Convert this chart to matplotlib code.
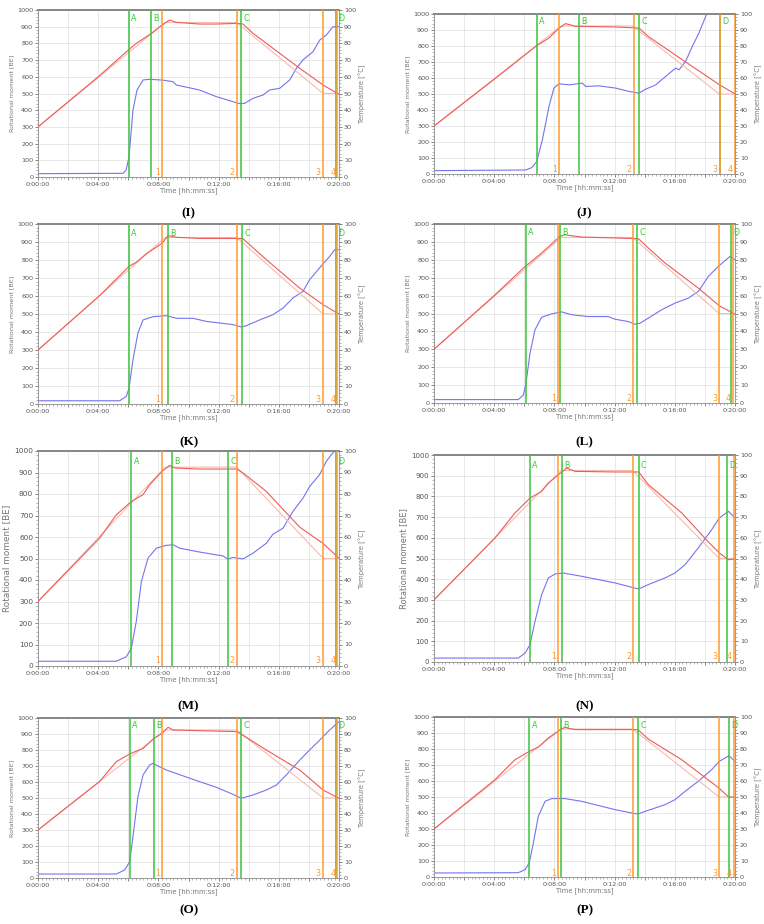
import matplotlib.pyplot as plt
import numpy as np
from matplotlib.ticker import MultipleLocator, FuncFormatter

# set-point temperature profile (same for every run), minutes / degC
set_time = [0, 8.45, 13.2, 18.95, 20]
set_temp = [30, 92.5, 92.5, 50, 50]

# (I)
t_I = [0, 5.65, 5.85, 6.05, 6.31, 6.58, 6.98, 7.42, 8.3, 8.97, 9.19, 10.74, 11.85, 12.96, 13.3, 13.73,
       14.29, 14.95, 15.39, 16.06, 16.72, 17.17, 17.6, 18.27, 18.72, 19.16, 19.6, 20]
torque_I = [20, 22, 40, 122, 401, 521, 581, 585, 580, 571, 551, 521, 481, 451, 441, 441,
            471, 491, 521, 531, 581, 651, 701, 750, 820, 850, 900, 900]
tt_I = [0, 4.0, 6.05, 6.53, 6.87, 7.53, 8.24, 8.75, 9.19, 10.74, 11.85, 13.22, 13.62, 14.29, 17.39, 18.94, 20]
temp_I = [30, 60, 76.4, 80, 82, 86, 91, 94, 92.6, 91.6, 91.6, 92, 91.6, 86, 65.1, 55.1, 49.5]
green_I = [6.05, 7.53, 13.51, 19.78]
orange_I = [8.24, 13.22, 18.94, 19.9]

# (J)
t_J = [0, 6.09, 6.5, 6.82, 7.2, 7.64, 7.97, 8.3, 8.97, 9.86, 10.08, 10.96, 12.07, 12.96, 13.62, 14.06,
       14.73, 15.39, 16.06, 16.28, 16.72, 17.16, 17.6, 18.16]
torque_J = [21, 25, 40, 77, 213, 422, 537, 564, 557, 568, 547, 551, 537, 516, 505, 530,
            557, 610, 662, 651, 704, 797, 881, 1010]
tt_J = [0, 4.1, 6.82, 7.64, 8.3, 8.75, 9.41, 12.07, 13.62, 14.29, 16.5, 18.98, 20]
temp_J = [30, 59.9, 80.2, 85, 91.2, 94, 92.3, 91.9, 91.2, 85.6, 71.4, 55.7, 50.1]
green_J = [6.82, 9.66, 13.64, 19.0]
orange_J = [8.3, 13.29, 18.98, 19.98]

# (K)
t_K = [0, 5.43, 5.87, 6.05, 6.31, 6.64, 6.98, 7.64, 8.53, 9.19, 10.3, 11.18, 12.07, 12.96, 13.51, 13.84,
       14.73, 15.61, 16.28, 16.94, 17.61, 18.05, 18.71, 19.38, 19.71, 20]
torque_K = [18, 18, 43, 89, 246, 394, 467, 485, 491, 476, 476, 459, 450, 441, 428, 435,
            467, 496, 533, 589, 626, 691, 756, 820, 857, 857]
tt_K = [0, 4.1, 6.05, 6.53, 7.2, 8.24, 8.64, 9.19, 10.74, 13.22, 13.62, 15.17, 17.39, 18.94, 20]
temp_K = [30, 60.2, 76.5, 78.7, 83.5, 89.2, 93.5, 92.6, 92, 92, 91.8, 80.2, 64.4, 55.2, 50]
green_K = [6.05, 8.64, 13.55, 19.78]
orange_K = [8.24, 13.22, 18.94, 19.9]

# (L)
t_L = [0, 5.6, 5.94, 6.11, 6.38, 6.71, 7.15, 7.82, 8.48, 9.15, 10.25, 11.58, 12.03, 12.91, 13.36, 13.69,
       14.24, 15.13, 16.01, 16.9, 17.56, 18.23, 18.89, 19.67, 20]
torque_L = [19, 19, 45, 110, 278, 409, 479, 498, 509, 493, 483, 483, 468, 455, 440, 446,
            474, 521, 558, 586, 623, 707, 763, 819, 800]
tt_L = [0, 4.05, 6.11, 6.49, 7.15, 8.37, 8.7, 9.81, 12.03, 13.58, 14.24, 15.35, 17.56, 18.96, 20]
temp_L = [30, 60.4, 76.7, 79.1, 83.8, 93.1, 94, 92.7, 92.2, 91.8, 86.6, 78.2, 64.2, 54.3, 49.6]
green_L = [6.11, 8.37, 13.51, 19.73]
orange_L = [8.26, 13.25, 18.96, 19.89]

# (M)
t_M = [0, 5.2, 5.87, 6.2, 6.53, 6.87, 7.31, 7.86, 8.53, 8.97, 9.41, 10.74, 11.85, 12.29, 12.62, 12.96,
       13.62, 14.29, 15.17, 15.61, 16.28, 16.94, 17.61, 18.05, 18.71, 19.16, 19.49, 19.71, 20]
torque_M = [22, 22, 43, 82, 207, 393, 502, 548, 561, 564, 548, 530, 517, 512, 497, 505,
            498, 525, 571, 613, 641, 719, 781, 835, 890, 952, 983, 1000, 1000]
tt_M = [0, 4.1, 5.2, 6.2, 6.98, 7.42, 8.24, 8.75, 9.08, 10.74, 13.22, 13.62, 15.17, 16.72, 17.39, 18.94, 20]
temp_M = [30, 59.5, 70.3, 76.5, 79.7, 84.3, 90.5, 93.3, 92.1, 91.6, 91.6, 89.8, 81.2, 69.6, 64.6, 57, 50.2]
green_M = [6.2, 8.93, 12.62, 19.78]
orange_M = [8.24, 13.22, 18.94, 19.9]

# (N)
t_N = [0, 5.6, 6.05, 6.38, 6.71, 7.15, 7.6, 8.04, 8.59, 9.81, 12.03, 13.36, 13.6, 14.24, 15.35, 16.01,
       16.68, 17.56, 18.45, 18.96, 19.56, 20]
torque_N = [19, 19, 43, 84, 196, 325, 406, 425, 430, 414, 382, 357, 353, 374, 406, 430,
            470, 551, 639, 696, 728, 696]
tt_N = [0, 4.05, 5.38, 6.38, 7.15, 7.6, 8.5, 8.81, 9.37, 12.03, 13.6, 14.24, 16.46, 18.23, 18.96, 19.56, 20]
temp_N = [30, 59.9, 72, 79.2, 82.4, 86.5, 91.8, 93.7, 92.1, 91.8, 91.8, 85.7, 72, 58, 52.7, 49.4, 49.8]
green_N = [6.38, 8.5, 13.6, 19.49]
orange_N = [8.26, 13.25, 18.96, 19.95]

# (O)
t_O = [0, 5.2, 5.76, 6.09, 6.31, 6.64, 6.98, 7.42, 7.64, 7.97, 8.53, 10.74, 11.85, 12.96, 13.51, 14.29,
       15.17, 15.84, 16.5, 17.39, 18.05, 18.72, 19.38, 20]
torque_O = [25, 25, 50, 102, 258, 508, 644, 706, 717, 700, 675, 602, 567, 523, 498, 519,
            550, 581, 644, 737, 800, 862, 925, 977]
tt_O = [0, 4.1, 5.2, 6.09, 6.98, 7.71, 8.24, 8.64, 8.97, 10.74, 13.22, 13.84, 15.17, 17.39, 18.94, 20]
temp_O = [30, 60.4, 72.7, 77.5, 81, 87.3, 90.4, 94.2, 92.5, 92.1, 91.5, 87.9, 80, 67.5, 55, 49.8]
green_O = [6.09, 7.71, 13.51, 19.82]
orange_O = [8.24, 13.22, 18.94, 19.9]

# (P)
t_P = [0, 5.6, 6.05, 6.33, 6.6, 6.93, 7.38, 7.82, 8.7, 9.81, 12.03, 13.36, 13.55, 14.24, 15.35, 16.01,
       16.68, 17.56, 18.45, 18.96, 19.6, 20]
torque_P = [25, 27, 46, 88, 212, 379, 473, 490, 490, 473, 421, 396, 394, 417, 452, 483,
            535, 598, 671, 723, 758, 723]
tt_P = [0, 4.05, 5.38, 6.33, 6.93, 7.6, 8.46, 8.7, 9.37, 12.03, 13.55, 14.24, 16.46, 18.96, 19.6, 20]
temp_P = [30, 60.8, 73.3, 78.5, 81.2, 86.9, 92.5, 93.5, 92.1, 92.1, 92.1, 86.2, 73.3, 55.4, 49.8, 50]
green_P = [6.33, 8.46, 13.55, 19.6]
orange_P = [8.26, 13.25, 18.96, 19.95]

panels = [
    ("I", t_I, torque_I, tt_I, temp_I, green_I, orange_I),
    ("J", t_J, torque_J, tt_J, temp_J, green_J, orange_J),
    ("K", t_K, torque_K, tt_K, temp_K, green_K, orange_K),
    ("L", t_L, torque_L, tt_L, temp_L, green_L, orange_L),
    ("M", t_M, torque_M, tt_M, temp_M, green_M, orange_M),
    ("N", t_N, torque_N, tt_N, temp_N, green_N, orange_N),
    ("O", t_O, torque_O, tt_O, temp_O, green_O, orange_O),
    ("P", t_P, torque_P, tt_P, temp_P, green_P, orange_P),
]

# axes boxes in pixels: left, right, top, bottom ; caption y
W, H = 764, 924
boxes = {
    "I": (38, 339, 10, 177, 213), "J": (434, 735, 14, 174, 213),
    "K": (38, 339, 224, 404, 442), "L": (434, 735, 224, 403, 442),
    "M": (38, 339, 451, 666, 706), "N": (434, 735, 455, 662, 706),
    "O": (38, 339, 718, 878, 910), "P": (434, 735, 717, 877, 910),
}
# bigger left-axis text in M and N
left_tick_fs = {"M": 5.3, "N": 5.1}
left_label_fs = {"M": 6.4, "N": 6.0}
fs = 4.6

green_c = '#3cc43c'
orange_c = '#ff9a30'
red_c = '#ee5a5a'
pink_c = '#f5bcab'
blue_c = '#7474ee'
grey = '#777777'

fig = plt.figure(figsize=(W / 100, H / 100), dpi=100)

for name, t, torque, tt, temp, greens, oranges in panels:
    l, r, top, bot, cap = boxes[name]
    ax = fig.add_axes([l / W, 1 - bot / H, (r - l) / W, (bot - top) / H])
    ax2 = ax.twinx()

    ax.set_xlim(0, 20)
    ax.set_ylim(0, 1000)
    ax2.set_ylim(0, 100)

    ax.grid(True, color='#e4e4e4', lw=0.6)
    ax.set_axisbelow(True)

    ax.plot(t, torque, color=blue_c, lw=0.8, zorder=3)
    ax2.plot(set_time, set_temp, color=pink_c, lw=0.8, zorder=2)
    ax2.plot(tt, temp, color=red_c, lw=0.8, zorder=3)

    for i, x in enumerate(greens):
        ax2.axvline(x, color=green_c, lw=1.1, zorder=4)
        ax2.text(x + 0.15, 95, "ABCD"[i], color='#33cc33', fontsize=fs + 1.2,
                 ha='left', va='center', zorder=5)
    for i, x in enumerate(oranges):
        ax2.axvline(x, color=orange_c, lw=1.1, zorder=4)
        ax2.text(x - 0.15, 2.5, str(i + 1), color=orange_c, fontsize=fs + 1.2,
                 ha='right', va='center', zorder=5)

    ax.xaxis.set_major_locator(MultipleLocator(2))
    ax.xaxis.set_minor_locator(MultipleLocator(0.25))
    ax.xaxis.set_major_formatter(FuncFormatter(
        lambda m, p: "0:%02d:00" % int(round(m)) if int(round(m)) % 4 == 0 else ""))
    ax.yaxis.set_major_locator(MultipleLocator(100))
    ax.yaxis.set_minor_locator(MultipleLocator(20))
    ax2.yaxis.set_major_locator(MultipleLocator(10))
    ax2.yaxis.set_minor_locator(MultipleLocator(2))

    for a in (ax, ax2):
        a.tick_params(labelsize=fs, colors='#555555', length=2, width=0.5, pad=1.5)
        a.tick_params(which='minor', length=1.2, width=0.4, colors='#777777')
        for s in a.spines.values():
            s.set_color('#999999')
            s.set_linewidth(0.6)
        a.spines['top'].set_color('#888888')
        a.spines['top'].set_linewidth(1.3)
    ax.tick_params(axis='y', labelsize=left_tick_fs.get(name, fs))

    ax.set_ylabel("Rotational moment [BE]", fontsize=left_label_fs.get(name, fs), color=grey, labelpad=2)
    ax2.set_ylabel("Temperature [°C]", fontsize=fs + 0.3, color=grey, labelpad=2)
    ax.set_xlabel("Time [hh:mm:ss]", fontsize=fs + 0.3, color=grey, labelpad=0.5)

    fig.text((l + r) / 2 / W, 1 - cap / H, "(%s)" % name, ha='center', va='center',
             fontsize=9.5, fontweight='bold', family='Liberation Serif')

fig.savefig("out.png", dpi=100)
